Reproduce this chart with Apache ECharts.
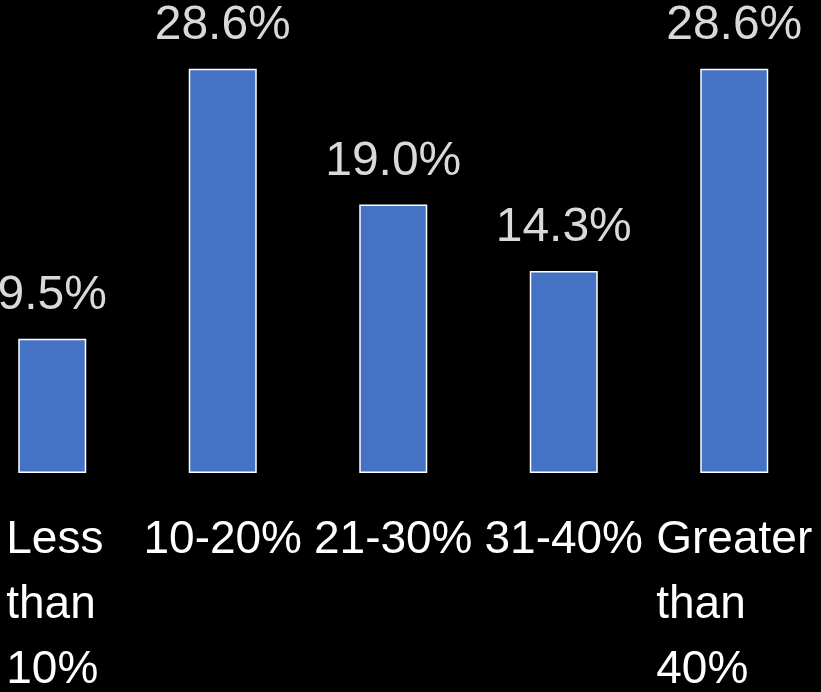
<!DOCTYPE html>
<html>
<head>
<meta charset="utf-8">
<script src="https://cdn.jsdelivr.net/npm/echarts@6/dist/echarts.min.js"></script>
<style>
html,body{margin:0;padding:0;background:#000;}
#chart{width:821px;height:692px;}
</style>
</head>
<body>
<div id="chart"></div>
<script>
const categories = ['Less than 10%', '10-20%', '21-30%', '31-40%', 'Greater than 40%'];
const categoryLines = [['Less', 'than', '10%'], ['10-20%'], ['21-30%'], ['31-40%'], ['Greater', 'than', '40%']];
const values = [9.5, 28.6, 19.0, 14.3, 28.6];

const chart = echarts.init(document.getElementById('chart'));
const font = '"Liberation Sans", Arial, sans-serif';
chart.setOption({
  backgroundColor: '#000000',
  animation: false,
  grid: { left: -33, width: 852.5, top: 49, bottom: 219, containLabel: false, outerBoundsMode: 'none' },
  xAxis: {
    type: 'category',
    data: categories,
    axisLine: { show: false },
    axisTick: { show: false },
    axisLabel: {
      interval: 0,
      margin: 35,
      hideOverlap: false,
      color: '#ffffff',
      fontFamily: font,
      fontSize: 46,
      lineHeight: 65,
      formatter: function (v, i) {
        const lines = categoryLines[i];
        if (lines.length === 1) return lines[0];
        const key = i === 0 ? 'a' : 'b';
        return lines.map(l => '{' + key + '|' + l + '}').join('\n');
      },
      rich: {
        a: { width: 92, align: 'left', color: '#ffffff', fontFamily: font, fontSize: 46, lineHeight: 65 },
        b: { width: 156, align: 'left', color: '#ffffff', fontFamily: font, fontSize: 46, lineHeight: 65 }
      }
    }
  },
  yAxis: {
    type: 'value', min: 0, max: 30, show: false,
    splitLine: { show: false }
  },
  series: [{
    type: 'bar',
    data: values,
    barWidth: 68,
    itemStyle: { color: '#4472C4', borderColor: '#ffffff', borderWidth: 1.5 },
    label: {
      show: true,
      position: 'top',
      distance: 19,
      color: '#D9D9D9',
      fontFamily: font,
      fontSize: 48,
      lineHeight: 48,
      formatter: p => p.value.toFixed(1) + '%'
    }
  }]
});
</script>
</body>
</html>
